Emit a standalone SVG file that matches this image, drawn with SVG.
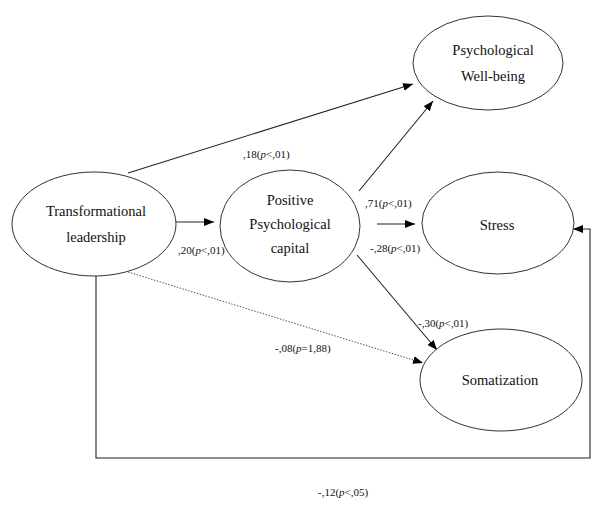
<svg xmlns="http://www.w3.org/2000/svg" width="592" height="505" viewBox="0 0 592 505">
<style>
.node ellipse{fill:#fff;stroke:#333;stroke-width:1}
.nt{font-size:14.5px;fill:#111;text-anchor:middle}
.lb{font-size:11px;fill:#111}
.c{stroke:#222;stroke-width:1.1;fill:none}
.d{stroke:#555;stroke-width:1;stroke-dasharray:1.5 1.5;fill:none}
</style>
<defs>
<marker id="ah" viewBox="0 0 10 8" refX="10" refY="4" markerWidth="10" markerHeight="8" markerUnits="userSpaceOnUse" orient="auto">
<path d="M0,0 L10,4 L0,8 Z" fill="#000"/>
</marker>
</defs>
<g font-family="'Liberation Serif', 'DejaVu Serif', serif">
<g id="connectors">
<line class="c" x1="128" y1="173" x2="413" y2="84" marker-end="url(#ah)"/>
<line class="c" x1="359" y1="191" x2="433" y2="101" marker-end="url(#ah)"/>
<line class="c" x1="175" y1="222" x2="214" y2="222" marker-end="url(#ah)"/>
<line class="c" x1="377" y1="224" x2="415" y2="224" marker-end="url(#ah)"/>
<line class="c" x1="357" y1="255" x2="437" y2="350" marker-end="url(#ah)"/>
<line class="d" x1="128" y1="272" x2="423" y2="363" marker-end="url(#ah)"/>
<polyline class="c" points="96,276 96,458 590,458 590,229 573,229" marker-end="url(#ah)"/>
</g>
<g id="labels">
<text class="lb" x="243" y="158">,18(<tspan font-style="italic">p</tspan>&lt;,01)</text>
<text class="lb" x="178" y="254">,20(<tspan font-style="italic">p</tspan>&lt;,01)</text>
<text class="lb" x="365" y="207">,71(<tspan font-style="italic">p</tspan>&lt;,01)</text>
<text class="lb" x="370" y="252">-,28(<tspan font-style="italic">p</tspan>&lt;,01)</text>
<text class="lb" x="418" y="327">-,30(<tspan font-style="italic">p</tspan>&lt;,01)</text>
<text class="lb" x="275" y="352">-,08(<tspan font-style="italic">p</tspan>=1,88)</text>
<text class="lb" x="318" y="496">-,12(<tspan font-style="italic">p</tspan>&lt;,05)</text>
</g>
<g id="n-tl" class="node">
<ellipse cx="94" cy="224" rx="82" ry="52"/>
<text class="nt" x="96" y="216">Transformational</text>
<text class="nt" x="96" y="242">leadership</text>
</g>
<g id="n-ppc" class="node">
<ellipse cx="290" cy="226" rx="70" ry="56"/>
<text class="nt" x="290" y="205">Positive</text>
<text class="nt" x="290" y="229">Psychological</text>
<text class="nt" x="290" y="253">capital</text>
</g>
<g id="n-pwb" class="node">
<ellipse cx="488" cy="63" rx="75" ry="47"/>
<text class="nt" x="493" y="55">Psychological</text>
<text class="nt" x="493" y="81">Well-being</text>
</g>
<g id="n-stress" class="node">
<ellipse cx="498" cy="223" rx="76" ry="51"/>
<text class="nt" x="497" y="230">Stress</text>
</g>
<g id="n-som" class="node">
<ellipse cx="501" cy="380" rx="81" ry="51"/>
<text class="nt" x="500" y="385">Somatization</text>
</g>
</g>
</svg>
